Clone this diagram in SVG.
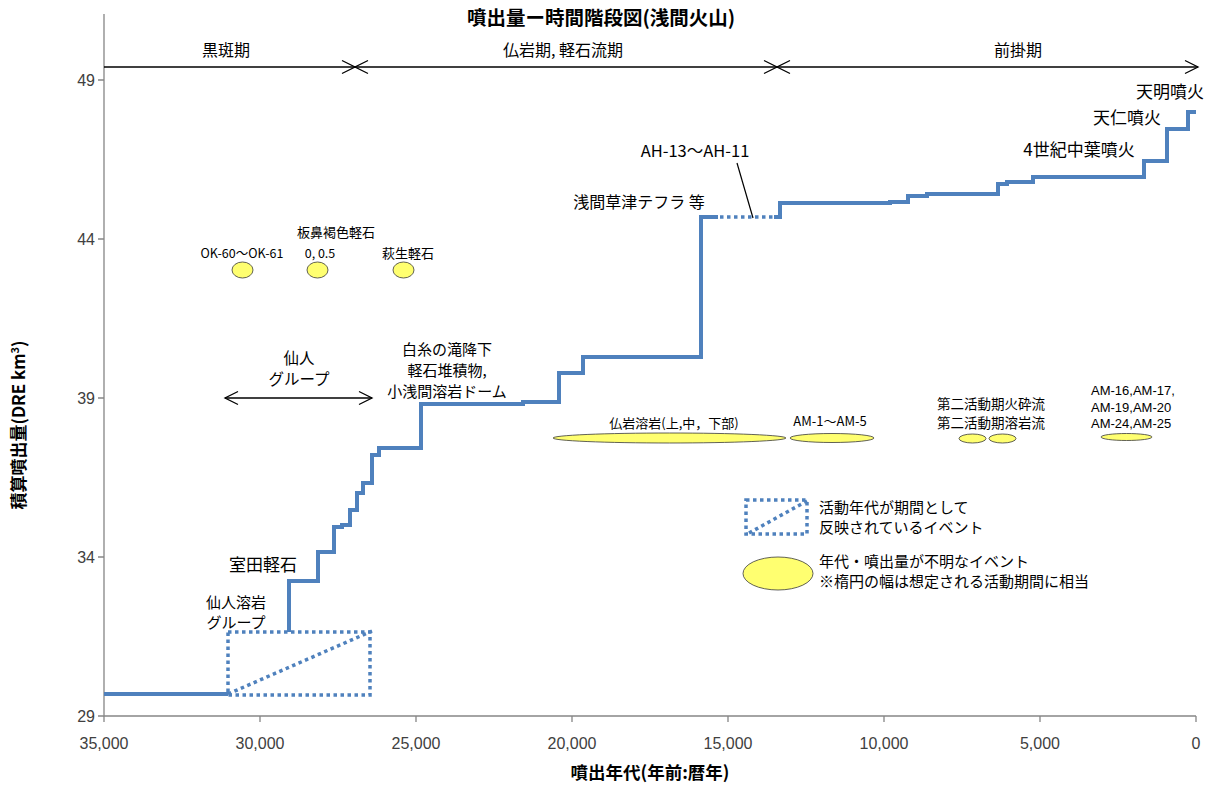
<svg xmlns="http://www.w3.org/2000/svg" width="1212" height="785" viewBox="0 0 1212 785">
<style>
.jp{font-family:"Noto Sans CJK JP","Noto Sans",sans-serif;fill:#000}
.lat{font-family:"Liberation Sans","Noto Sans",sans-serif;fill:#000}
.b{font-weight:bold}
.ax{font-family:"Liberation Sans","Noto Sans",sans-serif;fill:#404040}
.axis{stroke:#868686;stroke-width:1.3;fill:none}
.step{stroke:#4f81bd;stroke-width:4;fill:none;stroke-linejoin:miter}
.dot{stroke:#4f81bd;stroke-width:3.5;fill:none;stroke-dasharray:3.5 3.5}
.ell{fill:#ffff70;stroke:#3a3a3a;stroke-width:0.8}
.arr{stroke:#000;stroke-width:1.3;fill:none}
</style>
<defs>
<marker id="chev" markerUnits="userSpaceOnUse" markerWidth="16" markerHeight="16" viewBox="0 0 16 16" refX="14" refY="8" orient="auto-start-reverse">
<path d="M1,1.5 L14,8 L1,14.5" fill="none" stroke="#000" stroke-width="1.3"/>
</marker>
</defs>
<rect width="1212" height="785" fill="#fff"/>

<g id="axes">
<path class="axis" d="M104,14 V716 H1196"/>
<path class="axis" d="M98,80 H104 M98,239 H104 M98,398 H104 M98,557 H104 M98,716 H104"/>
<path class="axis" d="M104,716 V722 M260,716 V722 M416,716 V722 M572,716 V722 M728,716 V722 M884,716 V722 M1040,716 V722 M1196,716 V722"/>
<g class="ax" font-size="16" text-anchor="end">
<text x="95" y="86">49</text>
<text x="95" y="245">44</text>
<text x="95" y="404">39</text>
<text x="95" y="563">34</text>
<text x="95" y="722">29</text>
</g>
<g class="ax" font-size="16" text-anchor="middle">
<text x="104" y="749">35,000</text>
<text x="260" y="749">30,000</text>
<text x="416" y="749">25,000</text>
<text x="572" y="749">20,000</text>
<text x="728" y="749">15,000</text>
<text x="884" y="749">10,000</text>
<text x="1040" y="749">5,000</text>
<text x="1196" y="749">0</text>
</g>
<text class="jp b" x="650" y="779" font-size="17.5" text-anchor="middle">噴出年代(年前:暦年)</text>
<text class="jp b" transform="translate(25,425) rotate(-90)" font-size="17" text-anchor="middle">積算噴出量(DRE km<tspan font-size="11" dy="-6">3</tspan><tspan dy="6">)</tspan></text>
</g>

<g id="title">
<text class="jp b" x="601" y="25" font-size="19.5" text-anchor="middle">噴出量ー時間階段図(浅間火山)</text>
</g>

<g id="periods">
<text class="jp" x="226" y="56" font-size="16" text-anchor="middle">黒斑期</text>
<text class="jp" x="563" y="56" font-size="16" text-anchor="middle">仏岩期, 軽石流期</text>
<text class="jp" x="1018" y="56" font-size="16" text-anchor="middle">前掛期</text>
</g>

<g id="connectors">
<line class="arr" x1="104" y1="67" x2="355" y2="67" marker-end="url(#chev)"/>
<line class="arr" x1="355" y1="67" x2="777" y2="67" marker-start="url(#chev)" marker-end="url(#chev)"/>
<line class="arr" x1="777" y1="67" x2="1198" y2="67" marker-start="url(#chev)" marker-end="url(#chev)"/>
<line class="arr" x1="225" y1="398" x2="372" y2="398" marker-start="url(#chev)" marker-end="url(#chev)"/>
<line x1="737" y1="163" x2="753" y2="218" stroke="#000" stroke-width="1.2"/>
</g>

<g id="staircase">
<path class="step" d="M104,694 H228"/>
<path class="dot" d="M228,632 H370 V695 H228 Z"/>
<path class="dot" d="M228,694 L372,631"/>
<path class="step" d="M289,632 V581 H318 V552 H334 V527 H342 V525 H350 V510 H357 V493 H363 V483 H372 V455 H379 V448 H421 V404 H523 V402 H559 V373 H583 V357 H701 V217 H718"/>
<path class="dot" d="M720,217 H776" stroke-width="4"/>
<path class="step" d="M774,217 H780 V203 H890 V202 H908 V196 H927 V194 H998 V184 H1007 V182 H1033 V177 H1144 V161 H1167 V129 H1188 V112 H1196"/>
</g>

<g id="eruption-labels">
<text class="jp" x="1170" y="98" font-size="17" text-anchor="middle">天明噴火</text>
<text class="jp" x="1127" y="124" font-size="17" text-anchor="middle">天仁噴火</text>
<text class="jp" x="1079" y="156" font-size="17" text-anchor="middle">4世紀中葉噴火</text>
<text class="jp" x="695" y="157" font-size="16.5" text-anchor="middle">AH-13〜AH-11</text>
<text class="jp" x="639" y="208" font-size="16" text-anchor="middle">浅間草津テフラ 等</text>
<text class="jp" x="447" y="355" font-size="15" text-anchor="middle">白糸の滝降下</text>
<text class="jp" x="447" y="376" font-size="15" text-anchor="middle">軽石堆積物,</text>
<text class="jp" x="447" y="397" font-size="15" text-anchor="middle">小浅間溶岩ドーム</text>
<text class="jp" x="263" y="571" font-size="17" text-anchor="middle">室田軽石</text>
<text class="jp" x="236" y="608" font-size="15" text-anchor="middle">仙人溶岩</text>
<text class="jp" x="236" y="628" font-size="15" text-anchor="middle">グループ</text>
<text class="jp" x="299" y="364" font-size="15.5" text-anchor="middle">仙人</text>
<text class="jp" x="299" y="385" font-size="15.5" text-anchor="middle">グループ</text>
</g>

<g id="ok60">
<ellipse class="ell" cx="242.5" cy="270" rx="10.5" ry="8"/>
<text class="jp" x="242" y="258" font-size="12.5" text-anchor="middle">OK-60〜OK-61</text>
</g>
<g id="itahana">
<ellipse class="ell" cx="317.5" cy="270" rx="10.5" ry="8"/>
<text class="jp" x="336" y="237" font-size="13" text-anchor="middle">板鼻褐色軽石</text>
<text class="jp" x="320" y="258" font-size="12.5" text-anchor="middle">0, 0.5</text>
</g>
<g id="hagyu">
<ellipse class="ell" cx="403.5" cy="270" rx="10.5" ry="8"/>
<text class="jp" x="408" y="258" font-size="13" text-anchor="middle">萩生軽石</text>
</g>
<g id="butsuiwa">
<ellipse class="ell" cx="669.5" cy="438" rx="116.5" ry="5"/>
<text class="jp" x="674" y="428" font-size="13" text-anchor="middle">仏岩溶岩(上,中，下部)</text>
</g>
<g id="am1">
<ellipse class="ell" cx="832" cy="438" rx="42" ry="4.5"/>
<text class="jp" x="830" y="426" font-size="13" text-anchor="middle">AM-1〜AM-5</text>
</g>
<g id="daini">
<ellipse class="ell" cx="972.5" cy="438.5" rx="13.5" ry="4.5"/>
<ellipse class="ell" cx="1002.5" cy="438.5" rx="13.5" ry="4.5"/>
<text class="jp" x="991" y="409" font-size="13.5" text-anchor="middle">第二活動期火砕流</text>
<text class="jp" x="991" y="428" font-size="13.5" text-anchor="middle">第二活動期溶岩流</text>
</g>
<g id="am16">
<ellipse class="ell" cx="1126.5" cy="437" rx="25.5" ry="3.5"/>
<text class="lat" x="1091" y="395" font-size="13">AM-16,AM-17,</text>
<text class="lat" x="1091" y="411.5" font-size="13">AM-19,AM-20</text>
<text class="lat" x="1091" y="428" font-size="13">AM-24,AM-25</text>
</g>

<g id="legend">
<path class="dot" d="M746,500 H807 V534 H746 Z"/>
<path class="dot" d="M749,533 L807,501"/>
<text class="jp" x="819" y="513" font-size="15">活動年代が期間として</text>
<text class="jp" x="819" y="533" font-size="15">反映されているイベント</text>
<ellipse class="ell" cx="778" cy="573.5" rx="35" ry="16.5"/>
<text class="jp" x="819" y="567" font-size="15">年代・噴出量が不明なイベント</text>
<text class="jp" x="819" y="587" font-size="15">※楕円の幅は想定される活動期間に相当</text>
</g>
</svg>
